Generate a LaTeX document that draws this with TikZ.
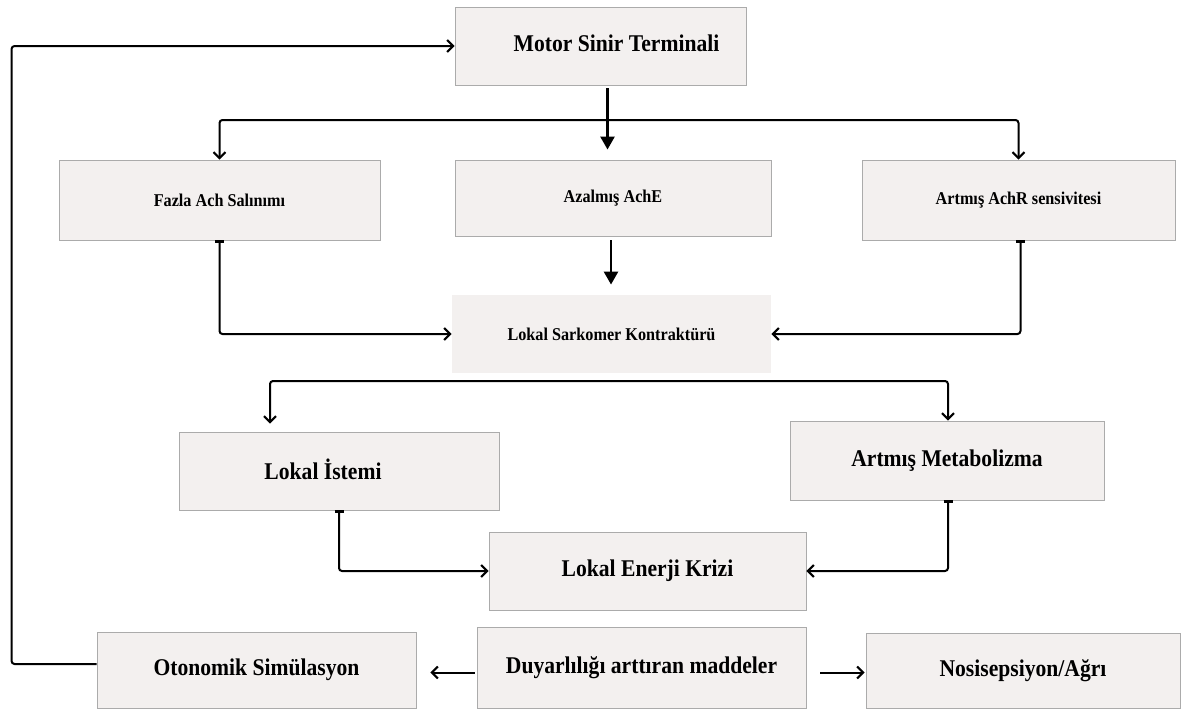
\documentclass[tikz,border=0pt]{standalone}
\usepackage{fontspec}
\setmainfont[FakeStretch=0.9]{Liberation Serif}
\usetikzlibrary{arrows.meta}
\definecolor{boxfill}{HTML}{F3F0EF}
\definecolor{boxline}{HTML}{ABABAB}
\tikzset{
  box/.style={fill=boxfill,draw=boxline,line width=.9pt,inner sep=0pt,
    font=\bfseries\fontsize{24}{28}\selectfont},
  smallbox/.style={box,font=\bfseries\fontsize{18}{21}\selectfont},
  link/.style={line width=2pt,rounded corners=3pt,
    -{Straight Barb[length=6pt,width=12pt,line width=2pt]}},
  barlink/.style={link,{Bar[width=9pt,line width=2.5pt]}-{Straight Barb[length=6pt,width=12pt,line width=2pt]}},
  heavy/.style={line width=2.6pt,-{Triangle[length=13pt,width=14pt]}}
}
\begin{document}
\begin{tikzpicture}[x=1pt,y=-1pt]
  \useasboundingbox (0,0) rectangle (1189,715);
  % boxes
  \node[box,minimum width=291pt,minimum height=78pt] (motor) at (600.5,46) {\raisebox{5pt}{\hspace*{32pt}Motor Sinir Terminali}};
  \node[smallbox,minimum width=321pt,minimum height=80pt] (fazla) at (219.5,200) {Fazla Ach Salınımı};
  \node[smallbox,minimum width=316pt,minimum height=76pt] (azal) at (613,198) {Azalmış AchE};
  \node[smallbox,minimum width=313pt,minimum height=80pt] (artach) at (1018.5,200) {Artmış AchR sensivitesi};
  \node[smallbox,draw=none,minimum width=319pt,minimum height=78pt] (sark) at (611.5,334) {Lokal Sarkomer Kontraktürü};
  \node[box,minimum width=320pt,minimum height=78pt] (istemi) at (339,471) {\raisebox{4pt}{Lokal İstemi\hspace*{32pt}}};
  \node[box,minimum width=314pt,minimum height=79pt] (metab) at (947,460.5) {Artmış Metabolizma};
  \node[box,minimum width=317pt,minimum height=78pt] (enerji) at (647.5,571) {Lokal Enerji Krizi};
  \node[box,minimum width=319pt,minimum height=76pt] (otonom) at (256.5,670) {Otonomik Simülasyon};
  \node[box,minimum width=329pt,minimum height=81pt] (duyar) at (641.5,667.5) {Duyarlılığı arttıran maddeler};
  \node[box,minimum width=314pt,minimum height=75pt] (nosi) at (1023,670.5) {Nosisepsiyon/Ağrı};
  % forks
  \coordinate (fork1) at (607,120);
  \coordinate (fork2) at (611,381);
  % connectors
  \draw[heavy,shorten <=3pt,shorten >=10pt] ([xshift=7pt]motor.south) -- ([xshift=7pt]motor.south |- azal.north);
  \draw[link] (fork1) -| (fazla.north);
  \draw[link] (fork1) -| (artach.north);
  \draw[heavy,shorten <=4pt,shorten >=10pt] ([xshift=-2pt]azal.south) -- ([xshift=-2pt]azal.south |- sark.north);
  \draw[barlink] (fazla.south) |- (sark.west);
  \draw[barlink] ([xshift=2pt]artach.south) |- (sark.east);
  \draw[link,shorten >=8pt] (fork2) -| ([xshift=-69pt]istemi.north);
  \draw[link] (fork2) -| ([xshift=1pt]metab.north);
  \draw[barlink] (istemi.south) |- (enerji.west);
  \draw[barlink] ([xshift=1pt]metab.south) |- (enerji.east);
  \draw[link] ([yshift=6pt]otonom.west) -- ++(-85,0) |- (motor.west);
  \draw[link,shorten <=2pt,shorten >=14pt] ([yshift=-5pt]duyar.west) -- ([yshift=-5pt]duyar.west -| otonom.east);
  \draw[link,shorten <=14pt,shorten >=1pt] ([yshift=-5pt]duyar.east) -- ([yshift=-5pt]duyar.east -| nosi.west);
\end{tikzpicture}
\end{document}
